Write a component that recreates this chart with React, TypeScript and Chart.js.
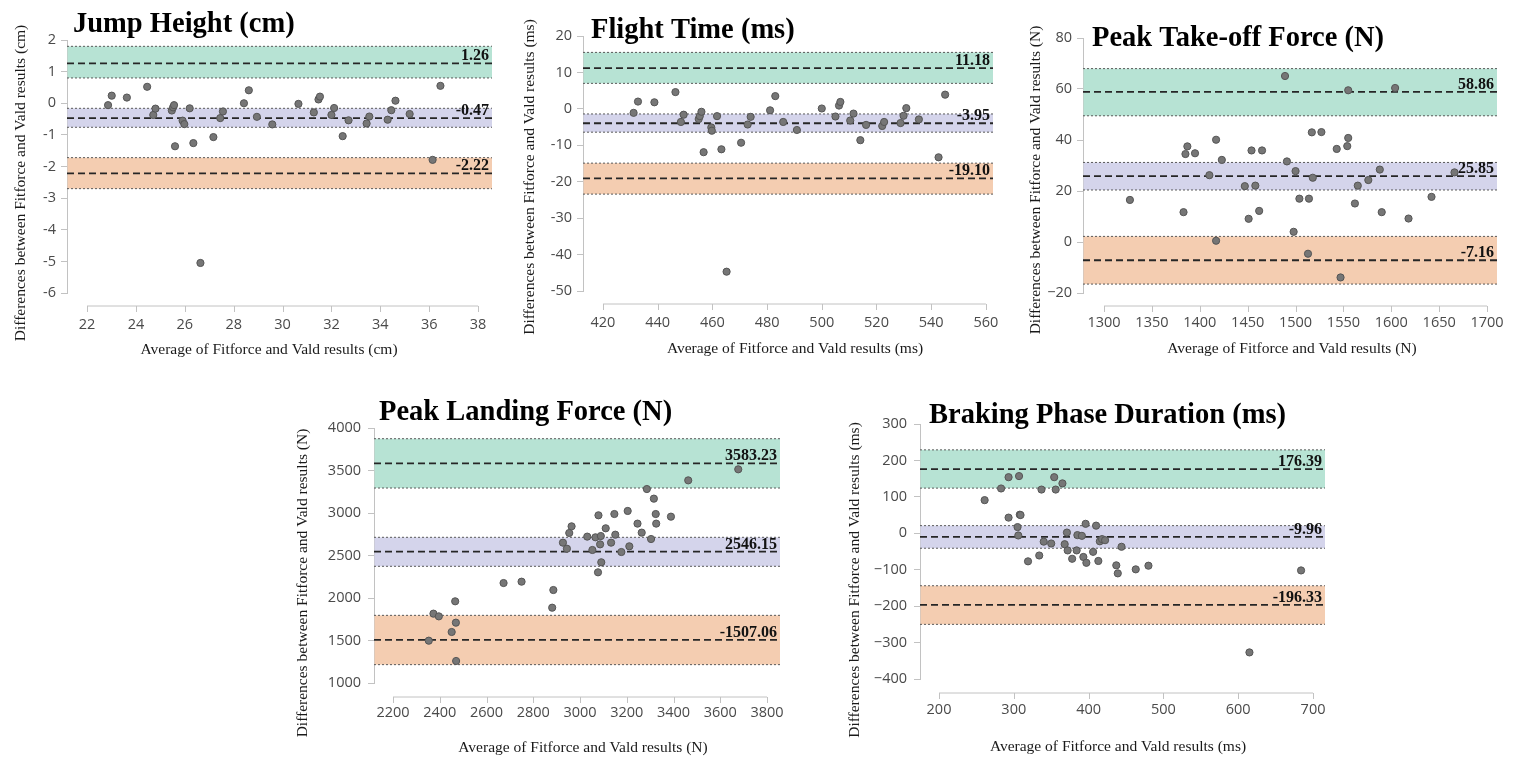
import { useEffect, useRef } from 'react';
import { Chart, registerables } from 'chart.js';

Chart.register(...registerables);

// ---- Jump Height (cm)
const jumpAvg = [22.86, 23.01, 23.63, 24.46, 24.71, 24.8, 25.47, 25.52, 25.56, 25.6, 25.91, 25.98, 26.2, 26.35, 26.64, 27.17, 27.45, 27.56, 28.42, 28.62, 28.95, 29.58, 30.65, 31.28, 31.47, 31.53, 32.0, 32.11, 32.46, 32.7, 33.44, 33.55, 34.3, 34.45, 34.62, 35.2, 36.14, 36.46];
const jumpDiff = [-0.06, 0.24, 0.18, 0.52, -0.37, -0.17, -0.23, -0.13, -0.06, -1.36, -0.55, -0.66, -0.16, -1.26, -5.05, -1.07, -0.47, -0.26, 0.0, 0.41, -0.43, -0.67, -0.02, -0.29, 0.12, 0.21, -0.37, -0.15, -1.04, -0.54, -0.64, -0.42, -0.52, -0.22, 0.08, -0.34, -1.79, 0.55];
const jumpLines = [1.26, -0.47, -2.22];
const jumpLabels = ['1.26', '-0.47', '-2.22'];
const jumpBands = [[0.8, 1.8], [-0.76, -0.16], [-2.7, -1.72]];
const jumpXTicks = [22, 24, 26, 28, 30, 32, 34, 36, 38];
const jumpYTicks = [-6, -5, -4, -3, -2, -1, 0, 1, 2];
const jumpXRange = [21.18, 38.57];

// ---- Flight Time (ms)
const flightAvg = [431.2, 432.8, 438.8, 446.5, 448.5, 449.5, 455.0, 455.4, 456.0, 456.8, 459.6, 459.8, 461.7, 463.3, 465.2, 470.5, 472.9, 474.0, 481.1, 483.0, 485.9, 490.9, 500.0, 505.0, 506.3, 506.8, 510.4, 511.6, 514.1, 516.2, 522.1, 522.8, 528.8, 529.9, 530.9, 535.5, 542.7, 545.1];
const flightDiff = [-1.1, 2.0, 1.8, 4.6, -3.6, -1.6, -2.8, -2.0, -0.8, -11.9, -5.1, -6.0, -2.0, -11.1, -44.7, -9.3, -4.3, -2.2, -0.4, 3.5, -3.6, -5.8, 0.1, -2.1, 0.9, 1.9, -3.2, -1.3, -8.6, -4.4, -4.7, -3.6, -3.9, -1.9, 0.2, -2.9, -13.3, 3.9];
const flightLines = [11.18, -3.95, -19.1];
const flightLabels = ['11.18', '-3.95', '-19.10'];
const flightBands = [[7.0, 15.5], [-6.4, -1.4], [-23.4, -14.9]];
const flightXTicks = [420, 440, 460, 480, 500, 520, 540, 560];
const flightYTicks = [-50, -40, -30, -20, -10, 0, 10, 20];
const flightXRange = [412.7, 562.6];

// ---- Peak Take-off Force (N)
const takeoffAvg = [1327, 1383, 1385, 1387, 1395, 1410, 1417, 1417, 1423, 1447, 1451, 1454, 1458, 1462, 1465, 1489, 1491, 1498, 1500, 1504, 1514, 1513, 1517, 1518, 1527, 1543, 1547, 1554, 1555, 1555, 1562, 1565, 1576, 1588, 1590, 1604, 1618, 1642, 1666];
const takeoffDiff = [16.5, 11.7, 34.5, 37.5, 34.8, 26.2, 40.1, 0.5, 32.2, 21.9, 9.1, 35.9, 22.1, 12.2, 35.9, 65.1, 31.6, 4.0, 27.8, 17.0, 17.0, -4.6, 43.0, 25.2, 43.1, 36.5, -13.9, 37.6, 40.8, 59.5, 15.1, 22.1, 24.3, 28.4, 11.7, 60.4, 9.2, 17.7, 27.3];
const takeoffLines = [58.86, 25.85, -7.16];
const takeoffLabels = ['58.86', '25.85', '-7.16'];
const takeoffBands = [[49.5, 68.0], [20.4, 31.2], [-16.5, 2.2]];
const takeoffXTicks = [1300, 1350, 1400, 1450, 1500, 1550, 1600, 1650, 1700];
const takeoffYTicks = [-20, 0, 20, 40, 60, 80];
const takeoffXRange = [1278, 1710.4];

// ---- Peak Landing Force (N)
const landingAvg = [2353, 2373, 2396, 2451, 2466, 2469, 2470, 2673, 2750, 2881, 2886, 2927, 2944, 2954, 2964, 3031, 3053, 3066, 3079, 3077, 3086, 3089, 3091, 3110, 3133, 3147, 3151, 3177, 3204, 3211, 3246, 3264, 3286, 3304, 3316, 3324, 3326, 3389, 3463, 3677];
const landingDiff = [1498, 1816, 1784, 1600, 1961, 1710, 1259, 2176, 2192, 1886, 2094, 2651, 2580, 2765, 2843, 2722, 2565, 2714, 2973, 2302, 2631, 2729, 2420, 2820, 2651, 2988, 2745, 2541, 3024, 2608, 2875, 2769, 3282, 2694, 3169, 2988, 2875, 2957, 3384, 3514];
const landingLines = [3583.23, 2546.15, 1507.06];
const landingLabels = ['3583.23', '2546.15', '-1507.06'];
const landingBands = [[3294, 3874], [2373, 2714], [1216, 1796]];
const landingXTicks = [2200, 2400, 2600, 2800, 3000, 3200, 3400, 3600, 3800];
const landingYTicks = [1000, 1500, 2000, 2500, 3000, 3500, 4000];
const landingXRange = [2118.7, 3855.6];

// ---- Braking Phase Duration (ms)
const brakingAvg = [261, 283, 293, 293, 305, 306, 307, 308, 309, 319, 334, 337, 340, 350, 354, 356, 365, 368, 371, 372, 378, 384, 385, 391, 393, 396, 397, 406, 410, 413, 415, 418, 422, 437, 439, 444, 463, 480, 615, 684];
const brakingDiff = [91, 123, 43, 154, 17, -6, 157, 51, 50, -77, -61, 120, -23, -28, 154, 120, 137, -30, 2, -47, -70, -47, -5, -7, -65, 26, -81, -51, 21, -76, -22, -16, -19, -88, -110, -37, -99, -89, -327, -102];
const brakingLines = [176.39, -9.96, -196.33];
const brakingLabels = ['176.39', '-9.96', '-196.33'];
const brakingBands = [[124, 229], [-41, 21], [-250, -144]];
const brakingXTicks = [200, 300, 400, 500, 600, 700];
const brakingYTicks = [-400, -300, -200, -100, 0, 100, 200, 300];
const brakingXRange = [174.6, 716];

const bandFills = ['rgb(183, 227, 212)', 'rgb(212, 212, 235)', 'rgb(244, 205, 177)'];
const SERIF = '"Liberation Serif", "Times New Roman", serif';
const SANS = '"Open Sans", "DejaVu Sans", sans-serif';

type Box = { l: number; t: number; w: number; h: number };
type Area = { l: number; t: number; r: number; b: number };

type PanelSpec = {
  title: string;
  xTitle: string;
  yTitle: string;
  avg: number[];
  diff: number[];
  lines: number[];
  labels: string[];
  bands: number[][];
  xTicks: number[];
  yTicks: number[];
  xRange: number[];
  minus: string;
  // layout, page coordinates
  box: Box;
  area: Area;
  axisGap: number;
  xLabelY: number;
  yLabelPad: number;
  titlePos: [number, number];
  xTitlePos: [number, number];
  yTitlePos: [number, number];
};

const panels: PanelSpec[] = [
  {
    title: 'Jump Height (cm)',
    xTitle: 'Average of Fitforce and Vald results (cm)',
    yTitle: 'Differences between Fitforce and Vald results (cm)',
    avg: jumpAvg, diff: jumpDiff, lines: jumpLines, labels: jumpLabels, bands: jumpBands,
    xTicks: jumpXTicks, yTicks: jumpYTicks, xRange: jumpXRange, minus: '-',
    box: { l: 0, t: 0, w: 500, h: 365 },
    area: { l: 67, t: 40, r: 492, b: 293 },
    axisGap: 13, xLabelY: 325, yLabelPad: 5,
    titlePos: [73, 32], xTitlePos: [269, 350], yTitlePos: [21, 183],
  },
  {
    title: 'Flight Time (ms)',
    xTitle: 'Average of Fitforce and Vald results (ms)',
    yTitle: 'Differences between Fitforce and Vald results (ms)',
    avg: flightAvg, diff: flightDiff, lines: flightLines, labels: flightLabels, bands: flightBands,
    xTicks: flightXTicks, yTicks: flightYTicks, xRange: flightXRange, minus: '-',
    box: { l: 510, t: 0, w: 490, h: 365 },
    area: { l: 583, t: 36, r: 993, b: 291 },
    axisGap: 13, xLabelY: 323, yLabelPad: 5,
    titlePos: [591, 38], xTitlePos: [795, 349], yTitlePos: [530, 177],
  },
  {
    title: 'Peak Take-off Force (N)',
    xTitle: 'Average of Fitforce and Vald results (N)',
    yTitle: 'Differences between Fitforce and Vald results (N)',
    avg: takeoffAvg, diff: takeoffDiff, lines: takeoffLines, labels: takeoffLabels, bands: takeoffBands,
    xTicks: takeoffXTicks, yTicks: takeoffYTicks, xRange: takeoffXRange, minus: '\u2212',
    box: { l: 1010, t: 0, w: 504, h: 365 },
    area: { l: 1083, t: 38, r: 1497, b: 293 },
    axisGap: 13, xLabelY: 323, yLabelPad: 5,
    titlePos: [1092, 46], xTitlePos: [1292, 349], yTitlePos: [1036, 180],
  },
  {
    title: 'Peak Landing Force (N)',
    xTitle: 'Average of Fitforce and Vald results (N)',
    yTitle: 'Differences between Fitforce and Vald results (N)',
    avg: landingAvg, diff: landingDiff, lines: landingLines, labels: landingLabels, bands: landingBands,
    xTicks: landingXTicks, yTicks: landingYTicks, xRange: landingXRange, minus: '\u2212',
    box: { l: 290, t: 380, w: 500, h: 392 },
    area: { l: 374, t: 428, r: 780, b: 683 },
    axisGap: 14, xLabelY: 713, yLabelPad: 7,
    titlePos: [379, 420], xTitlePos: [583, 748], yTitlePos: [303, 583],
  },
  {
    title: 'Braking Phase Duration (ms)',
    xTitle: 'Average of Fitforce and Vald results (ms)',
    yTitle: 'Differences between Fitforce and Vald results (ms)',
    avg: brakingAvg, diff: brakingDiff, lines: brakingLines, labels: brakingLabels, bands: brakingBands,
    xTicks: brakingXTicks, yTicks: brakingYTicks, xRange: brakingXRange, minus: '\u2212',
    box: { l: 830, t: 380, w: 505, h: 392 },
    area: { l: 920, t: 424, r: 1325, b: 679 },
    axisGap: 14, xLabelY: 710, yLabelPad: 7,
    titlePos: [929, 423], xTitlePos: [1118, 747], yTitlePos: [855, 580],
  },
];

const AXIS_COLOR = '#c2c2c2';
const TICK_COLOR = '#4a4a4a';

// bands, limit lines, titles and the offset d3-style x axis
function makeDecorPlugin(p: PanelSpec) {
  const ox = p.box.l;
  const oy = p.box.t;
  return {
    id: 'baDecor',
    beforeDatasetsDraw(chart: any) {
      const { ctx, chartArea: a, scales } = chart;
      const y = scales.y;
      ctx.save();
      p.bands.forEach((band, i) => {
        const top = y.getPixelForValue(band[1]);
        const bottom = y.getPixelForValue(band[0]);
        ctx.fillStyle = bandFills[i];
        ctx.fillRect(a.left + 0.5, top, a.right - a.left - 0.5, bottom - top);
        ctx.strokeStyle = '#5a5a5a';
        ctx.lineWidth = 1;
        ctx.setLineDash([2, 2]);
        [top, bottom].forEach((yy) => {
          ctx.beginPath();
          ctx.moveTo(a.left, yy);
          ctx.lineTo(a.right, yy);
          ctx.stroke();
        });
        const mid = y.getPixelForValue(p.lines[i]);
        ctx.strokeStyle = '#262626';
        ctx.lineWidth = 1.8;
        ctx.setLineDash([7, 4]);
        ctx.beginPath();
        ctx.moveTo(a.left, mid);
        ctx.lineTo(a.right, mid);
        ctx.stroke();
      });
      ctx.restore();
    },
    afterDraw(chart: any) {
      const { ctx, chartArea: a, scales } = chart;
      const x = scales.x;
      const y = scales.y;
      ctx.save();
      // x axis domain with outer ticks
      const axisY = a.bottom + p.axisGap;
      const x0 = x.getPixelForValue(p.xTicks[0]);
      const x1 = x.getPixelForValue(p.xTicks[p.xTicks.length - 1]);
      ctx.strokeStyle = AXIS_COLOR;
      ctx.lineWidth = 1;
      ctx.setLineDash([]);
      ctx.beginPath();
      ctx.moveTo(x0, axisY);
      ctx.lineTo(x1, axisY);
      p.xTicks.forEach((t) => {
        const px = Math.round(x.getPixelForValue(t)) + 0.5;
        ctx.moveTo(px, axisY);
        ctx.lineTo(px, axisY + 6);
      });
      ctx.stroke();

      // limit labels
      ctx.fillStyle = '#111';
      ctx.font = `bold 16px ${SERIF}`;
      ctx.textAlign = 'right';
      ctx.textBaseline = 'alphabetic';
      p.labels.forEach((lab, i) => {
        ctx.fillText(lab, a.right - 3, y.getPixelForValue(p.lines[i]) - 3);
      });

      // panel title
      ctx.fillStyle = '#000';
      ctx.font = `bold 28.5px ${SERIF}`;
      ctx.textAlign = 'left';
      ctx.fillText(p.title, p.titlePos[0] - ox, p.titlePos[1] - oy);

      // axis titles
      ctx.fillStyle = '#1a1a1a';
      ctx.font = `15.5px ${SERIF}`;
      ctx.textAlign = 'center';
      ctx.textBaseline = 'middle';
      ctx.fillText(p.xTitle, p.xTitlePos[0] - ox, p.xTitlePos[1] - oy);
      ctx.translate(p.yTitlePos[0] - ox, p.yTitlePos[1] - oy);
      ctx.rotate(-Math.PI / 2);
      ctx.fillText(p.yTitle, 0, 0);
      ctx.restore();
    },
  };
}

function BlandAltmanPanel({ panel }: { panel: PanelSpec }) {
  const canvasRef = useRef<HTMLCanvasElement>(null);
  const chartRef = useRef<Chart | null>(null);

  useEffect(() => {
    if (!canvasRef.current) return;
    if (chartRef.current) chartRef.current.destroy();

    const { box, area } = panel;
    const fmt = (v: any) => String(v).replace('-', panel.minus);
    const tickFont = { family: SANS, size: 14.5 };

    chartRef.current = new Chart(canvasRef.current, {
      type: 'scatter',
      data: {
        datasets: [
          {
            data: panel.avg.map((v, i) => ({ x: v, y: panel.diff[i] })),
            backgroundColor: '#767676',
            borderColor: '#555',
            borderWidth: 1,
            pointRadius: 3.6,
          },
        ],
      },
      options: {
        animation: false,
        responsive: true,
        maintainAspectRatio: false,
        layout: {
          padding: { left: 0, top: area.t - box.t, right: box.l + box.w - area.r, bottom: 0 },
        },
        plugins: {
          legend: { display: false },
          tooltip: { enabled: false },
        },
        scales: {
          x: {
            type: 'linear',
            position: 'bottom',
            min: panel.xRange[0],
            max: panel.xRange[1],
            afterBuildTicks: (s: any) => {
              s.ticks = panel.xTicks.map((v) => ({ value: v }));
            },
            afterFit: (s: any) => {
              s.height = box.t + box.h - area.b;
              s.paddingLeft = 0;
              s.paddingRight = 0;
            },
            grid: { display: false, drawTicks: false },
            border: { display: false },
            ticks: {
              autoSkip: false,
              maxRotation: 0,
              padding: panel.xLabelY - area.b - 8.7,
              color: TICK_COLOR,
              font: tickFont,
              callback: fmt,
            },
          },
          y: {
            type: 'linear',
            min: panel.yTicks[0],
            max: panel.yTicks[panel.yTicks.length - 1],
            afterBuildTicks: (s: any) => {
              s.ticks = panel.yTicks.map((v) => ({ value: v }));
            },
            afterFit: (s: any) => {
              s.width = area.l - box.l;
              s.paddingTop = 0;
              s.paddingBottom = 0;
            },
            grid: { drawOnChartArea: false, drawTicks: true, tickLength: 6, color: AXIS_COLOR },
            border: { display: true, color: AXIS_COLOR },
            ticks: {
              padding: panel.yLabelPad,
              color: TICK_COLOR,
              font: tickFont,
              callback: fmt,
            },
          },
        },
      },
      plugins: [makeDecorPlugin(panel)],
    } as any);

    return () => {
      if (chartRef.current) {
        chartRef.current.destroy();
        chartRef.current = null;
      }
    };
  }, [panel]);

  return (
    <div
      style={{
        position: 'absolute',
        left: panel.box.l,
        top: panel.box.t,
        width: panel.box.w,
        height: panel.box.h,
      }}
    >
      <canvas ref={canvasRef}></canvas>
    </div>
  );
}

export default function App() {
  return (
    <div
      style={{
        position: 'absolute',
        left: 0,
        top: 0,
        width: 1514,
        height: 772,
        background: '#fff',
        overflow: 'hidden',
      }}
    >
      {panels.map((p) => (
        <BlandAltmanPanel key={p.title} panel={p} />
      ))}
    </div>
  );
}
